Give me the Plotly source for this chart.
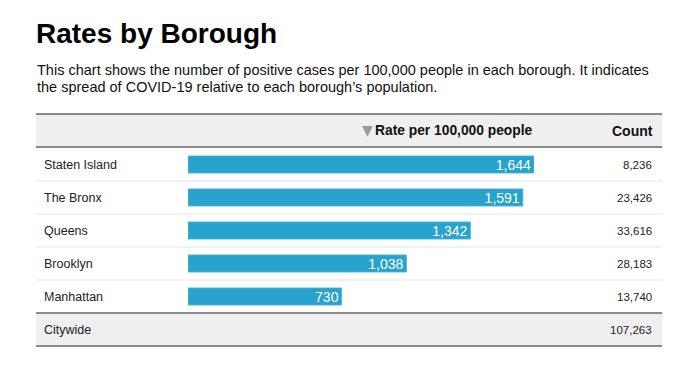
import plotly.graph_objects as go

boroughs = ["Staten Island", "The Bronx", "Queens", "Brooklyn", "Manhattan"]
rates = [1644, 1591, 1342, 1038, 730]
counts = [8236, 23426, 33616, 28183, 13740]
total_label = "Citywide"
total_count = 107263

title = "Rates by Borough"
subtitle_lines = [
    "This chart shows the number of positive cases per 100,000 people in each borough. It indicates",
    "the spread of COVID-19 relative to each borough\u2019s population.",
]
rate_header = "Rate per 100,000 people"
count_header = "Count"

OFF = 8  # page body margin
W, H = 690 - 2 * OFF, 367 - 2 * OFF
FONT = "Liberation Sans, Arial, Helvetica, sans-serif"
BAR_COLOR = "#28a3cc"


def px(x):
    return (x - OFF) / W


def py(y):
    return 1 - (y - OFF) / H


fig = go.Figure()
fig.add_trace(go.Bar(
    x=rates,
    y=boroughs,
    orientation="h",
    width=0.52,
    marker=dict(color=BAR_COLOR, line=dict(color="#4fb5d8", width=0.8)),
    texttemplate="%{x:,}",
    textposition="inside",
    insidetextanchor="end",
    constraintext="none",
    textfont=dict(color="white", size=14, family=FONT),
    hoverinfo="skip",
    cliponaxis=False,
))

left, right = 36, 662
shapes = []
shapes.append(dict(type="rect", xref="paper", yref="paper", x0=px(left), x1=px(right),
                   y0=py(147), y1=py(114), fillcolor="#efefef", line=dict(width=0), layer="below"))
shapes.append(dict(type="rect", xref="paper", yref="paper", x0=px(left), x1=px(right),
                   y0=py(346), y1=py(313), fillcolor="#efefef", line=dict(width=0), layer="below"))
for yy in [114, 147, 313, 346]:
    shapes.append(dict(type="line", xref="paper", yref="paper", x0=px(left), x1=px(right),
                       y0=py(yy), y1=py(yy), line=dict(color="#666666", width=1.6)))
for yy in [181, 214, 247, 280]:
    shapes.append(dict(type="line", xref="paper", yref="paper", x0=px(left), x1=px(right),
                       y0=py(yy), y1=py(yy), line=dict(color="#e6e6e6", width=1)))

ann = []
ann.append(dict(text="<b>" + title + "</b>", x=px(34), y=py(33), xanchor="left", yanchor="middle",
                font=dict(size=28, color="#000000", family=FONT)))
for i, line in enumerate(subtitle_lines):
    ann.append(dict(text=line, x=px(35), y=py(70 + i * 17), xanchor="left", yanchor="middle",
                    font=dict(size=14.5, color="#111111", family=FONT)))
ann.append(dict(text="<b>" + rate_header + "</b>", x=px(535), y=py(131), xanchor="right", yanchor="middle",
                font=dict(size=13.8, color="#111111", family=FONT)))
ann.append(dict(text="\u25bc", x=px(367), y=py(130), xanchor="center", yanchor="middle",
                font=dict(size=14, color="#9a9a9a", family="DejaVu Sans")))
ann.append(dict(text="<b>" + count_header + "</b>", x=px(655), y=py(131), xanchor="right", yanchor="middle",
                font=dict(size=14, color="#111111", family=FONT)))
for i, (b, c) in enumerate(zip(boroughs, counts)):
    yc = 165 + 33 * i
    ann.append(dict(text=b, x=px(42), y=py(yc), xanchor="left", yanchor="middle",
                    font=dict(size=12.5, color="#222222", family=FONT)))
    ann.append(dict(text=f"{c:,}", x=px(654), y=py(yc), xanchor="right", yanchor="middle",
                    font=dict(size=11.5, color="#222222", family=FONT)))
ann.append(dict(text=total_label, x=px(42), y=py(330), xanchor="left", yanchor="middle",
                font=dict(size=12.5, color="#222222", family=FONT)))
ann.append(dict(text=f"{total_count:,}", x=px(654), y=py(330), xanchor="right", yanchor="middle",
                font=dict(size=11.5, color="#222222", family=FONT)))
for a in ann:
    a.update(xref="paper", yref="paper", showarrow=False)

fig.update_layout(
    width=W, height=H,
    margin=dict(l=0, r=0, t=0, b=0),
    paper_bgcolor="white", plot_bgcolor="rgba(0,0,0,0)",
    showlegend=False,
    xaxis=dict(domain=[px(188), px(534)], range=[0, max(rates)], visible=False, fixedrange=True),
    yaxis=dict(domain=[py(313), py(148)], range=[len(boroughs) - 0.5, -0.5], type="category",
               categoryorder="array", categoryarray=boroughs, visible=False, fixedrange=True),
    shapes=shapes,
    annotations=ann,
    font=dict(family=FONT),
)

fig.write_html("out.html", config={"displayModeBar": False})
